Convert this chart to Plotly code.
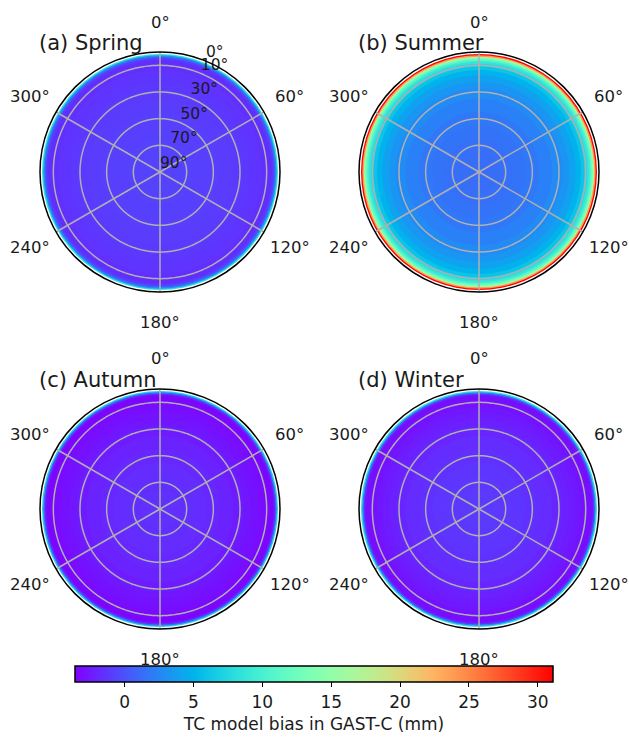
import numpy as np
import plotly.graph_objects as go

# ---------------- data ----------------
ELEV = [2, 3, 4, 5, 6, 7, 8, 10, 12, 15, 20, 25, 30, 40, 50, 60, 70, 80, 90]  # elevation bin centres (deg)
SPRING = [8.0, 3.0, 0.5, -0.8, -1.4, -1.6, -1.6, -1.6, -1.5, -1.4, -1.3, -1.2, -1.1, -1.0, -0.9, -0.8, -0.7, -0.7, -0.7]
SUMMER = [31.0, 24.0, 17.0, 13.0, 11.0, 9.5, 8.5, 7.0, 6.0, 5.0, 4.0, 3.3, 2.8, 2.2, 1.8, 1.6, 1.4, 1.3, 1.3]
AUTUMN = [7.0, 1.0, -2.0, -3.2, -3.4, -3.4, -3.3, -3.2, -3.1, -3.0, -2.8, -2.6, -2.4, -2.1, -1.9, -1.7, -1.6, -1.5, -1.5]
WINTER = [8.0, 2.0, -1.5, -2.8, -3.0, -3.0, -3.0, -2.9, -2.8, -2.6, -2.4, -2.2, -2.0, -1.7, -1.5, -1.3, -1.2, -1.1, -1.0]
SEASONS = [SPRING, SUMMER, AUTUMN, WINTER]
TITLES = ["(a) Spring", "(b) Summer", "(c) Autumn", "(d) Winter"]
AZ_TICKS = [0, 60, 120, 180, 240, 300]
EL_TICKS = [90, 70, 50, 30, 10, 0]
EL_GRID = [70, 50, 30, 10]
CB_TICKS = [0, 5, 10, 15, 20, 25, 30]
CMIN, CMAX = -3.6, 31.1
CB_TITLE = "TC model bias in GAST-C (mm)"

# ---------------- style ----------------
W, H = 629, 739
FONT = "DejaVu Sans"
GRID = "#b0b0b0"
TXT = "#1a1a1a"
RLABEL_ANGLE = 22.5


def rainbow_scale(n=33):
    stops = []
    for k in range(n):
        x = k / (n - 1)
        r = min(1, abs(2 * x - 0.5))
        g = np.sin(np.pi * x)
        b = np.cos(np.pi * x / 2)
        stops.append([x, "rgb(%d,%d,%d)" % (round(255 * r), round(255 * max(g, 0)), round(255 * max(b, 0)))])
    return stops


# circle centres / radius in pixels (layout)
CENTERS = [(160, 172), (479, 172), (160, 509), (479, 509)]
RAD = 120
LABEL_RAD = 150


def dom(cx, cy):
    return dict(x=[(cx - RAD) / W, (cx + RAD) / W], y=[1 - (cy + RAD) / H, 1 - (cy - RAD) / H])


# bin edges in elevation -> outer radius of each disk (r = 90 - elevation)
lo = [ELEV[0] - 0.5] + [(ELEV[i - 1] + ELEV[i]) / 2 for i in range(1, len(ELEV))]
outer_r = [90 - v for v in lo]
circle_theta = list(np.arange(0, 361, 1))

fig = go.Figure()
for k, vals in enumerate(SEASONS):
    pname = "polar" if k == 0 else "polar%d" % (k + 1)
    # filled rings (drawn as nested disks, outermost first)
    fig.add_trace(go.Barpolar(
        r=outer_r,
        base=[0] * len(outer_r),
        theta=[0] * len(outer_r),
        width=[360] * len(outer_r),
        marker=dict(color=vals, coloraxis="coloraxis", line=dict(width=0)),
        subplot=pname, showlegend=False, hoverinfo="skip",
    ))
    # grid circles above the fill
    for e in EL_GRID:
        fig.add_trace(go.Scatterpolar(
            r=[90 - e] * len(circle_theta), theta=circle_theta, mode="lines",
            line=dict(color=GRID, width=1.5), subplot=pname, showlegend=False, hoverinfo="skip",
        ))
    # grid spokes
    for a in AZ_TICKS:
        fig.add_trace(go.Scatterpolar(
            r=[0, 90], theta=[a, a], mode="lines",
            line=dict(color=GRID, width=1.5), subplot=pname, showlegend=False, hoverinfo="skip",
        ))
    if k == 0:
        fig.add_trace(go.Scatterpolar(
            r=[90 - e for e in EL_TICKS], theta=[RLABEL_ANGLE] * len(EL_TICKS),
            mode="text", text=["%d°" % e for e in EL_TICKS], textposition="top right",
            textfont=dict(family=FONT, size=15.5, color=TXT), cliponaxis=False,
            subplot=pname, showlegend=False, hoverinfo="skip",
        ))
    fig.layout[pname] = dict(
        domain=dom(*CENTERS[k]),
        bgcolor="white",
        angularaxis=dict(
            rotation=90, direction="clockwise",
            tickmode="array", tickvals=AZ_TICKS, showticklabels=False,
            showline=True, linecolor="black", linewidth=1.5,
            showgrid=False, ticks="",
        ),
        radialaxis=dict(range=[0, 90], showline=False, ticks="", showgrid=False, showticklabels=False),
    )
    cx, cy = CENTERS[k]
    fig.add_annotation(
        x=(cx - RAD - 3) / W, y=1 - (cy - RAD - 9) / H, xref="paper", yref="paper",
        xanchor="left", yanchor="middle", showarrow=False,
        text=TITLES[k], font=dict(family=FONT, size=21, color=TXT),
    )
    for a in AZ_TICKS:
        ar = np.radians(a)
        fig.add_annotation(
            x=(cx + LABEL_RAD * np.sin(ar)) / W, y=1 - (cy - LABEL_RAD * np.cos(ar)) / H,
            xref="paper", yref="paper", xanchor="center", yanchor="middle", showarrow=False,
            text="%d°" % a, font=dict(family=FONT, size=16.5, color=TXT),
        )

fig.update_layout(
    width=W, height=H,
    margin=dict(l=0, r=0, t=0, b=0),
    paper_bgcolor="white",
    font=dict(family=FONT, color=TXT),
    coloraxis=dict(
        colorscale=rainbow_scale(), cmin=CMIN, cmax=CMAX,
        colorbar=dict(
            orientation="h", x=314 / W, xanchor="center", y=1 - 666 / H, yanchor="top",
            len=478 / W, lenmode="fraction", thickness=16, xpad=0, ypad=0,
            outlinewidth=1.5, outlinecolor="black",
            tickmode="array", tickvals=CB_TICKS, ticks="outside", ticklen=5, tickwidth=1.2, tickcolor="black",
            tickfont=dict(family=FONT, size=17, color=TXT),
            title=dict(text=CB_TITLE, side="bottom", font=dict(family=FONT, size=17, color=TXT)),
        ),
    ),
)

fig.write_html("out.html")
